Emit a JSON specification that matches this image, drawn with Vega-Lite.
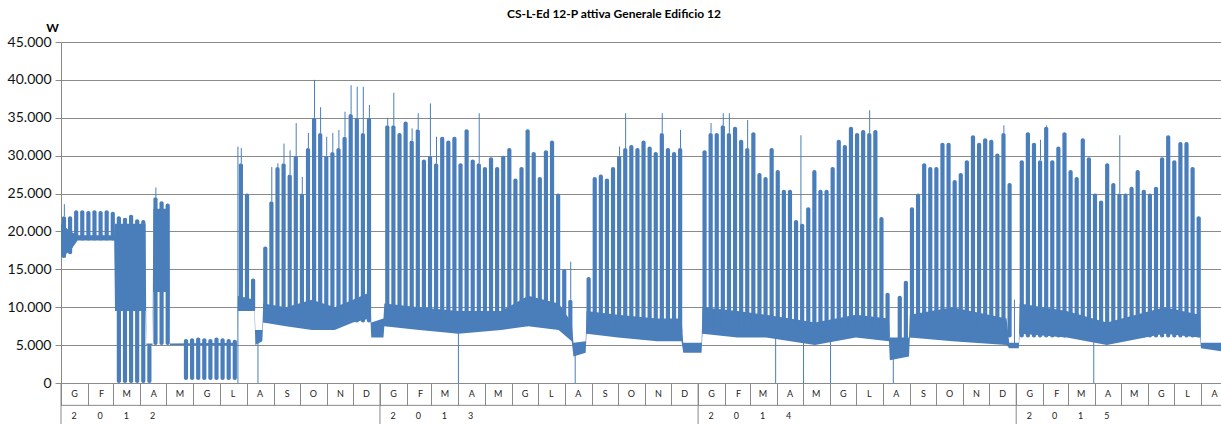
{
  "$schema": "https://vega.github.io/schema/vega-lite/v6.json",
  "width": 1160,
  "height": 341,
  "autosize": {"type": "none"},
  "padding": {"left": 61, "top": 42, "right": 0, "bottom": 41},
  "background": "white",
  "title": {"text": "CS-L-Ed 12-P attiva Generale Edificio 12", "font": "Lato", "fontSize": 12, "fontWeight": "bold", "color": "#000000", "anchor": "middle", "dx": -27, "offset": 0},
  "config": {"view": {"stroke": null}},
  "datasets": {
    "base": [
      {"t":"2012-01-01","lo":16500,"hi":21000},{"t":"2012-01-12","lo":17500,"hi":20000},{"t":"2012-01-20","lo":18800,"hi":19500},{"t":"2012-03-02","lo":18800,"hi":19500},
      {"t":"2012-03-03","lo":9500,"hi":21000},{"t":"2012-04-07","lo":9500,"hi":21000},{"t":"2012-04-08","lo":5000,"hi":5200},{"t":"2012-04-15","lo":5000,"hi":5200},
      {"t":"2012-04-16","lo":12000,"hi":23000},{"t":"2012-05-04","lo":12000,"hi":23000},{"t":"2012-05-05","lo":5000,"hi":5200},{"t":"2012-07-21","lo":5000,"hi":5300},
      {"t":"2012-07-22","lo":9500,"hi":11500},{"t":"2012-08-10","lo":9500,"hi":11000},{"t":"2012-08-11","lo":5000,"hi":7000},{"t":"2012-08-19","lo":5500,"hi":7000},
      {"t":"2012-08-20","lo":8000,"hi":10500},{"t":"2012-09-15","lo":7500,"hi":10000},{"t":"2012-10-15","lo":7000,"hi":11000},{"t":"2012-11-10","lo":7000,"hi":10000},
      {"t":"2012-12-01","lo":8000,"hi":11000},{"t":"2012-12-21","lo":8500,"hi":12000},{"t":"2012-12-22","lo":6000,"hi":8000},{"t":"2013-01-05","lo":6000,"hi":8500},
      {"t":"2013-01-06","lo":7500,"hi":10500},{"t":"2013-02-15","lo":7000,"hi":10000},{"t":"2013-04-01","lo":6500,"hi":9500},{"t":"2013-05-20","lo":7000,"hi":9500},
      {"t":"2013-06-20","lo":7500,"hi":11500},{"t":"2013-07-25","lo":7000,"hi":10500},{"t":"2013-08-09","lo":5500,"hi":8000},{"t":"2013-08-11","lo":3500,"hi":5300},
      {"t":"2013-08-25","lo":4000,"hi":5500},{"t":"2013-08-26","lo":6500,"hi":9500},{"t":"2013-10-01","lo":6000,"hi":9000},{"t":"2013-11-15","lo":5500,"hi":8500},
      {"t":"2013-12-13","lo":5500,"hi":8500},{"t":"2013-12-15","lo":4000,"hi":5300},{"t":"2014-01-05","lo":4000,"hi":5300},{"t":"2014-01-06","lo":6500,"hi":10000},
      {"t":"2014-02-15","lo":6000,"hi":9500},{"t":"2014-03-20","lo":6000,"hi":9000},{"t":"2014-05-15","lo":5000,"hi":8000},{"t":"2014-07-01","lo":6000,"hi":9000},
      {"t":"2014-08-08","lo":5500,"hi":8500},{"t":"2014-08-09","lo":3000,"hi":6000},{"t":"2014-08-31","lo":3500,"hi":6000},{"t":"2014-09-01","lo":6000,"hi":9000},
      {"t":"2014-10-20","lo":5500,"hi":10000},{"t":"2014-12-21","lo":5000,"hi":8500},{"t":"2014-12-24","lo":4600,"hi":5300},{"t":"2015-01-04","lo":4600,"hi":5300},
      {"t":"2015-01-05","lo":6500,"hi":10500},{"t":"2015-02-28","lo":6000,"hi":9500},{"t":"2015-04-15","lo":5000,"hi":8000},{"t":"2015-06-20","lo":6500,"hi":10000},
      {"t":"2015-07-31","lo":6000,"hi":9000},{"t":"2015-08-01","lo":4600,"hi":5300},{"t":"2015-08-24","lo":4200,"hi":5300}
    ],
    "weeks": [
      {"s":"2012-01-02","lo":16500,"hi":22000,"pk":23600},{"s":"2012-01-09","lo":17000,"hi":22000},{"s":"2012-01-16","lo":18800,"hi":22800},{"s":"2012-01-23","lo":18800,"hi":22800},
      {"s":"2012-01-30","lo":18800,"hi":22700},{"s":"2012-02-06","lo":18800,"hi":22800},{"s":"2012-02-13","lo":18800,"hi":22700},{"s":"2012-02-20","lo":18800,"hi":22800},
      {"s":"2012-02-27","lo":18800,"hi":22600},{"s":"2012-03-05","lo":0,"hi":22000},{"s":"2012-03-12","lo":0,"hi":21800},{"s":"2012-03-19","lo":0,"hi":22200},
      {"s":"2012-03-26","lo":0,"hi":21600},{"s":"2012-04-02","lo":0,"hi":21500},{"s":"2012-04-09","lo":0,"hi":5000},{"s":"2012-04-16","lo":5000,"hi":24500,"pk":25800},
      {"s":"2012-04-23","lo":5000,"hi":24000},{"s":"2012-04-30","lo":5000,"hi":23700},{"s":"2012-05-21","lo":400,"hi":5800},{"s":"2012-05-28","lo":400,"hi":5900},
      {"s":"2012-06-04","lo":400,"hi":6000},{"s":"2012-06-11","lo":400,"hi":5900},{"s":"2012-06-18","lo":400,"hi":5800},{"s":"2012-06-25","lo":400,"hi":6000},
      {"s":"2012-07-02","lo":400,"hi":5900},{"s":"2012-07-09","lo":400,"hi":5800},{"s":"2012-07-16","lo":400,"hi":5700},{"s":"2012-07-23","lo":9500,"hi":29000,"pk":31000},
      {"s":"2012-07-30","lo":9500,"hi":25000},{"s":"2012-08-06","lo":9500,"hi":13800},{"s":"2012-08-20","lo":8000,"hi":18000},{"s":"2012-08-27","lo":8000,"hi":24000,"pk":28500},
      {"s":"2012-09-03","lo":8000,"hi":28500,"pk":29000},{"s":"2012-09-10","lo":8000,"hi":29000,"pk":31600},{"s":"2012-09-17","lo":8000,"hi":27500,"pk":30700},{"s":"2012-09-24","lo":8000,"hi":30000,"pk":34300},
      {"s":"2012-10-01","lo":8000,"hi":25000,"pk":27200},{"s":"2012-10-08","lo":8000,"hi":31000,"pk":33000},{"s":"2012-10-15","lo":8000,"hi":35000,"pk":40000},{"s":"2012-10-22","lo":8000,"hi":33000,"pk":36400},
      {"s":"2012-10-29","lo":8000,"hi":30000,"pk":32500},{"s":"2012-11-05","lo":8000,"hi":30500,"pk":33000},{"s":"2012-11-12","lo":8000,"hi":31000,"pk":33400},{"s":"2012-11-19","lo":8000,"hi":32500,"pk":35800},
      {"s":"2012-11-26","lo":8000,"hi":35500,"pk":39300},{"s":"2012-12-03","lo":8000,"hi":35000,"pk":39100},{"s":"2012-12-10","lo":8000,"hi":33000,"pk":39100},{"s":"2012-12-17","lo":8000,"hi":35000,"pk":36700},
      {"s":"2013-01-07","lo":7500,"hi":34000,"pk":35000},{"s":"2013-01-14","lo":7500,"hi":34000,"pk":38300},{"s":"2013-01-21","lo":7500,"hi":33000},{"s":"2013-01-28","lo":7500,"hi":34500},
      {"s":"2013-02-04","lo":7500,"hi":32000,"pk":33600},{"s":"2013-02-11","lo":7500,"hi":33500,"pk":35600},{"s":"2013-02-18","lo":7500,"hi":29500},{"s":"2013-02-25","lo":7500,"hi":30000,"pk":36900},
      {"s":"2013-03-04","lo":7500,"hi":29000,"pk":32500},{"s":"2013-03-11","lo":7500,"hi":32500},{"s":"2013-03-18","lo":7500,"hi":32000},{"s":"2013-03-25","lo":7500,"hi":32500},
      {"s":"2013-04-01","lo":7500,"hi":29000},{"s":"2013-04-08","lo":7500,"hi":33500},{"s":"2013-04-15","lo":7500,"hi":29500},{"s":"2013-04-22","lo":7500,"hi":29000,"pk":35600},
      {"s":"2013-04-29","lo":7500,"hi":28500},{"s":"2013-05-06","lo":7500,"hi":29800},{"s":"2013-05-13","lo":7500,"hi":28500},{"s":"2013-05-20","lo":7500,"hi":30000},
      {"s":"2013-05-27","lo":7500,"hi":31000},{"s":"2013-06-03","lo":7500,"hi":27000},{"s":"2013-06-10","lo":7500,"hi":28500},{"s":"2013-06-17","lo":7500,"hi":33500},
      {"s":"2013-06-24","lo":7500,"hi":30500},{"s":"2013-07-01","lo":7500,"hi":27200},{"s":"2013-07-08","lo":7500,"hi":30700},{"s":"2013-07-15","lo":7500,"hi":32000},
      {"s":"2013-07-22","lo":7500,"hi":25000},{"s":"2013-07-29","lo":7500,"hi":15000},{"s":"2013-08-05","lo":6000,"hi":11000,"pk":16000},{"s":"2013-08-26","lo":6500,"hi":14000},
      {"s":"2013-09-02","lo":6500,"hi":27200},{"s":"2013-09-09","lo":6500,"hi":27500},{"s":"2013-09-16","lo":6500,"hi":27000},{"s":"2013-09-23","lo":6500,"hi":28500},
      {"s":"2013-09-30","lo":6500,"hi":30000,"pk":31200},{"s":"2013-10-07","lo":6500,"hi":31000,"pk":35600},{"s":"2013-10-14","lo":6500,"hi":31400},{"s":"2013-10-21","lo":6500,"hi":31000},
      {"s":"2013-10-28","lo":6500,"hi":32000},{"s":"2013-11-04","lo":6500,"hi":31200},{"s":"2013-11-11","lo":6500,"hi":30500},{"s":"2013-11-18","lo":6500,"hi":33000,"pk":35600},
      {"s":"2013-11-25","lo":6500,"hi":31000},{"s":"2013-12-02","lo":6500,"hi":30500},{"s":"2013-12-09","lo":6500,"hi":31000,"pk":33400},
      {"s":"2014-01-06","lo":6500,"hi":30700},{"s":"2014-01-13","lo":6500,"hi":33000,"pk":34300},{"s":"2014-01-20","lo":6500,"hi":33000},{"s":"2014-01-27","lo":6500,"hi":34000,"pk":35600},
      {"s":"2014-02-03","lo":6500,"hi":33000,"pk":35600},{"s":"2014-02-10","lo":6500,"hi":33800},{"s":"2014-02-17","lo":6500,"hi":32100},{"s":"2014-02-24","lo":6500,"hi":31000,"pk":34700},
      {"s":"2014-03-03","lo":6500,"hi":33100},{"s":"2014-03-10","lo":6500,"hi":27700},{"s":"2014-03-17","lo":6500,"hi":27200},{"s":"2014-03-24","lo":6500,"hi":31000},
      {"s":"2014-03-31","lo":6500,"hi":28100},{"s":"2014-04-07","lo":6500,"hi":25500},{"s":"2014-04-14","lo":6500,"hi":25500},{"s":"2014-04-21","lo":6500,"hi":21500},
      {"s":"2014-04-28","lo":6500,"hi":21000},{"s":"2014-05-05","lo":6500,"hi":23200},{"s":"2014-05-12","lo":6500,"hi":28100},{"s":"2014-05-19","lo":6500,"hi":25500},
      {"s":"2014-05-26","lo":6500,"hi":25500},{"s":"2014-06-02","lo":6500,"hi":28500},{"s":"2014-06-09","lo":6500,"hi":32100},{"s":"2014-06-16","lo":6500,"hi":31400},
      {"s":"2014-06-23","lo":6500,"hi":33800},{"s":"2014-06-30","lo":6500,"hi":33000},{"s":"2014-07-07","lo":6500,"hi":33400},{"s":"2014-07-14","lo":6500,"hi":33000,"pk":36000},
      {"s":"2014-07-21","lo":6500,"hi":33400},{"s":"2014-07-28","lo":6500,"hi":21900},{"s":"2014-08-04","lo":6000,"hi":11900},{"s":"2014-08-18","lo":5000,"hi":11500},
      {"s":"2014-08-25","lo":5000,"hi":13500},{"s":"2014-09-01","lo":6000,"hi":23200},{"s":"2014-09-08","lo":6000,"hi":25000},{"s":"2014-09-15","lo":6000,"hi":29000},
      {"s":"2014-09-22","lo":6000,"hi":28500},{"s":"2014-09-29","lo":6000,"hi":28500},{"s":"2014-10-06","lo":6000,"hi":31700},{"s":"2014-10-13","lo":6000,"hi":31700},
      {"s":"2014-10-20","lo":6000,"hi":26800},{"s":"2014-10-27","lo":6000,"hi":27700},{"s":"2014-11-03","lo":6000,"hi":29400},{"s":"2014-11-10","lo":6000,"hi":32700},
      {"s":"2014-11-17","lo":6000,"hi":31700},{"s":"2014-11-24","lo":6000,"hi":32300},{"s":"2014-12-01","lo":6000,"hi":32100},{"s":"2014-12-08","lo":6000,"hi":30300},
      {"s":"2014-12-15","lo":6000,"hi":33000,"pk":34000},{"s":"2014-12-22","lo":6000,"hi":26400},
      {"s":"2015-01-05","lo":6000,"hi":29400},{"s":"2015-01-12","lo":6000,"hi":33100},{"s":"2015-01-19","lo":6000,"hi":31700},{"s":"2015-01-26","lo":6000,"hi":29400,"pk":32100},
      {"s":"2015-02-02","lo":6000,"hi":33800,"pk":34000},{"s":"2015-02-09","lo":6000,"hi":29400},{"s":"2015-02-16","lo":6000,"hi":31200},{"s":"2015-02-23","lo":6000,"hi":33100},
      {"s":"2015-03-02","lo":6000,"hi":28100},{"s":"2015-03-09","lo":6000,"hi":27200},{"s":"2015-03-16","lo":6000,"hi":32300},{"s":"2015-03-23","lo":6000,"hi":29800},
      {"s":"2015-03-30","lo":6000,"hi":25000},{"s":"2015-04-06","lo":6000,"hi":24100},{"s":"2015-04-13","lo":6000,"hi":29000},{"s":"2015-04-20","lo":6000,"hi":26400},
      {"s":"2015-04-27","lo":6000,"hi":25000,"pk":32700},{"s":"2015-05-04","lo":6000,"hi":25000},{"s":"2015-05-11","lo":6000,"hi":25900},{"s":"2015-05-18","lo":6000,"hi":28100},
      {"s":"2015-05-25","lo":6000,"hi":25500},{"s":"2015-06-01","lo":6000,"hi":25000},{"s":"2015-06-08","lo":6000,"hi":25900},{"s":"2015-06-15","lo":6000,"hi":29800},
      {"s":"2015-06-22","lo":6000,"hi":32700},{"s":"2015-06-29","lo":6000,"hi":29400},{"s":"2015-07-06","lo":6000,"hi":31800},{"s":"2015-07-13","lo":6000,"hi":31800},
      {"s":"2015-07-20","lo":6000,"hi":28500},{"s":"2015-07-27","lo":6000,"hi":22000}
    ],
    "spikes": [
      {"t":"2012-07-22","a":0,"b":31200},{"t":"2012-08-14","a":0,"b":5500},{"t":"2013-04-01","a":0,"b":8000},{"t":"2013-08-13","a":0,"b":4000},
      {"t":"2014-03-31","a":0,"b":6500},{"t":"2014-04-29","a":20000,"b":32700},{"t":"2014-05-02","a":0,"b":6000},{"t":"2014-06-02","a":0,"b":6000},
      {"t":"2014-08-13","a":0,"b":4000},{"t":"2014-12-30","a":5000,"b":11000},{"t":"2015-03-31","a":0,"b":6000}
    ],
    "years": [{"d":"2012-01-01"},{"d":"2013-01-01"},{"d":"2014-01-01"},{"d":"2015-01-01"}],
    "span": [{"s":"2012-01-01","e":"2015-08-24"}],
    "ydig": [
      {"d":"2012-01-16","c":"2"},{"d":"2012-02-15","c":"0"},{"d":"2012-03-16","c":"1"},{"d":"2012-04-15","c":"2"},
      {"d":"2013-01-16","c":"2"},{"d":"2013-02-14","c":"0"},{"d":"2013-03-16","c":"1"},{"d":"2013-04-15","c":"3"},
      {"d":"2014-01-16","c":"2"},{"d":"2014-02-14","c":"0"},{"d":"2014-03-16","c":"1"},{"d":"2014-04-15","c":"4"},
      {"d":"2015-01-16","c":"2"},{"d":"2015-02-14","c":"0"},{"d":"2015-03-16","c":"1"},{"d":"2015-04-15","c":"5"}
    ]
  },
  "layer": [
    {
      "data": {"name": "base"},
      "mark": {"type": "area", "color": "#4a7ebb", "interpolate": "linear"},
      "encoding": {
        "x": {"field": "t", "type": "temporal",
          "scale": {"type": "utc", "padding": 0, "domain": [{"year": 2012, "month": 1, "date": 1, "utc": true}, {"year": 2015, "month": 8, "date": 24, "utc": true}]},
          "axis": {"title": null, "tickCount": {"interval": "month", "step": 1}, "labelExpr": "['G','F','M','A','M','G','L','A','S','O','N','D'][utcmonth(datum.value)]",
            "labelOffset": 13, "labelPadding": -16, "labelAlign": "center", "labelFont": "Lato", "labelFontSize": 9, "labelColor": "#222222",
            "labelOverlap": false, "labelFlush": false, "labelBound": false, "tickSize": 22, "tickColor": "#8a8a8a", "domainColor": "#8a8a8a", "grid": false}},
        "y": {"field": "lo", "type": "quantitative",
          "scale": {"domain": [0, 45000], "nice": false, "padding": 0},
          "axis": {"title": "W", "titleAngle": 0, "titleX": -9, "titleY": -15, "titleAlign": "center", "titleBaseline": "middle", "titleFont": "Lato", "titleFontSize": 12, "titleFontWeight": "bold", "titleColor": "#000000",
            "values": [0, 5000, 10000, 15000, 20000, 25000, 30000, 35000, 40000, 45000], "tickCount": 12,
            "labelExpr": "replace(format(datum.value, ','), ',', '.')", "labelFont": "Lato", "labelFontSize": 14, "labelColor": "#111111", "labelPadding": 4, "labelOverlap": false,
            "tickSize": 6, "tickColor": "#8a8a8a", "domainColor": "#8a8a8a", "grid": true, "gridColor": "#8a8a8a", "gridWidth": 1}},
        "y2": {"field": "hi"}
      }
    },
    {
      "data": {"name": "weeks"},
      "mark": {"type": "bar", "color": "#4a7ebb", "size": 4.2, "xOffset": 2.1, "cornerRadiusEnd": 2},
      "encoding": {
        "x": {"field": "s", "type": "temporal"},
        "y": {"field": "lo", "type": "quantitative"},
        "y2": {"field": "hi"}
      }
    },
    {
      "data": {"name": "weeks"},
      "transform": [{"filter": "datum.pk != null"}],
      "mark": {"type": "rule", "color": "#4a7ebb", "strokeWidth": 1, "xOffset": 2.5},
      "encoding": {
        "x": {"field": "s", "type": "temporal"},
        "y": {"field": "hi", "type": "quantitative"},
        "y2": {"field": "pk"}
      }
    },
    {
      "data": {"name": "spikes"},
      "mark": {"type": "rule", "color": "#4a7ebb", "strokeWidth": 1},
      "encoding": {
        "x": {"field": "t", "type": "temporal"},
        "y": {"field": "a", "type": "quantitative"},
        "y2": {"field": "b"}
      }
    },
    {
      "data": {"name": "span"},
      "mark": {"type": "rule", "color": "#8a8a8a", "strokeWidth": 1},
      "encoding": {
        "x": {"field": "s", "type": "temporal"},
        "x2": {"field": "e"},
        "y": {"datum": -2950, "type": "quantitative"}
      }
    },
    {
      "data": {"name": "years"},
      "mark": {"type": "rule", "color": "#8a8a8a", "strokeWidth": 1},
      "encoding": {
        "x": {"field": "d", "type": "temporal"},
        "y": {"datum": 0, "type": "quantitative"},
        "y2": {"datum": -5500}
      }
    },
    {
      "data": {"name": "ydig"},
      "mark": {"type": "text", "font": "Lato", "fontSize": 9, "color": "#222222", "baseline": "middle", "align": "center"},
      "encoding": {
        "x": {"field": "d", "type": "temporal"},
        "y": {"datum": -4400, "type": "quantitative"},
        "text": {"field": "c"}
      }
    }
  ]
}
